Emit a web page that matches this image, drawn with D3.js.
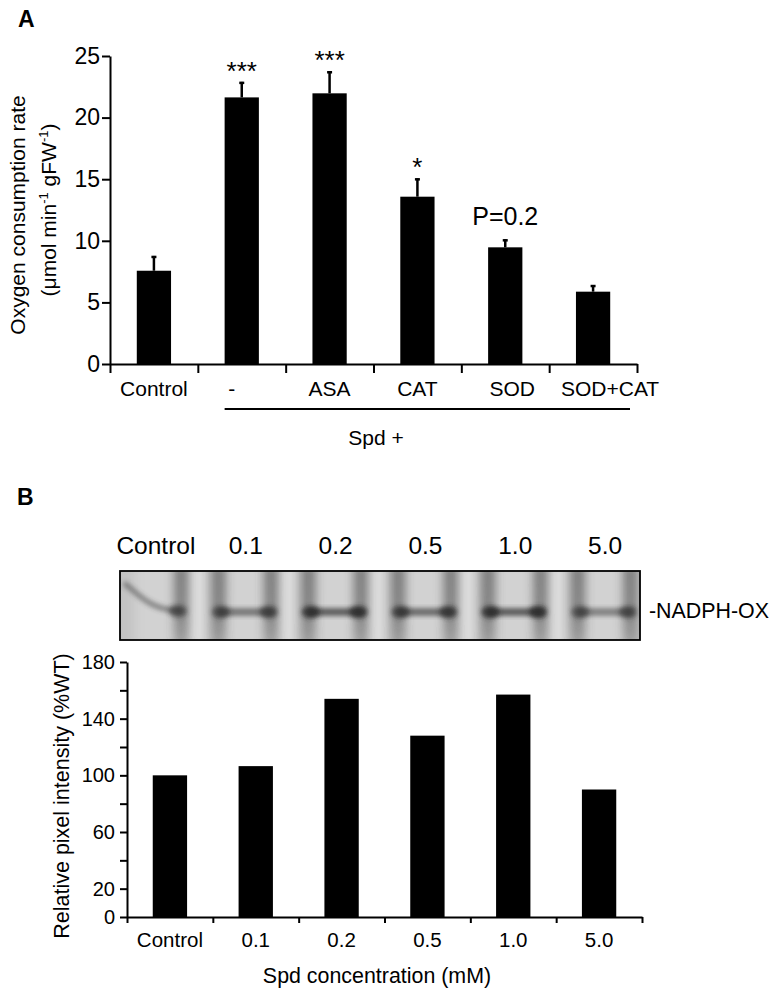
<!DOCTYPE html>
<html>
<head>
<meta charset="utf-8">
<script src="https://cdn.jsdelivr.net/npm/d3@7"></script>
<style>
  body { margin: 0; background: #fff; }
  svg text { font-family: Arial, "Liberation Sans", sans-serif; fill: #000; }
</style>
</head>
<body>
<svg id="fig" width="778" height="996"></svg>
<script>
// ---- panel A data ----
const treatments = ["Control", "-", "ASA", "CAT", "SOD", "SOD+CAT"];
const o2Rate = [7.57, 21.64, 21.97, 13.58, 9.47, 5.87];
const o2Sem = [1.2, 1.26, 1.79, 1.49, 0.65, 0.54];
const o2Sig = ["", "***", "***", "*", "P=0.2", ""];
const o2Ticks = [0, 5, 10, 15, 20, 25];

// ---- panel B data ----
const spdLevels = ["Control", "0.1", "0.2", "0.5", "1.0", "5.0"];
const pixelIntensity = [100, 106.5, 154, 128, 157, 90];
const pixelTicks = [0, 20, 40, 60, 80, 100, 120, 140, 160, 180];
const pixelTickLabels = [0, 20, 60, 100, 140, 180];

const svg = d3.select("#fig");

function styleAxis(g, fontSize) {
  g.attr("font-size", fontSize);
  g.select(".domain").attr("stroke", "#000").attr("stroke-width", 2);
  g.selectAll(".tick line").attr("stroke", "#000").attr("stroke-width", 2);
  g.selectAll(".tick text").attr("font-size", fontSize).attr("fill", "#000")
    .attr("font-family", "Arial, 'Liberation Sans', sans-serif");
}

// ================= Panel A =================
svg.append("text").attr("x", 18).attr("y", 27)
  .attr("font-size", 23).attr("font-weight", "bold").text("A");

const yA = d3.scaleLinear().domain([0, 25]).range([364, 56]);
const xA = d3.scaleBand().domain(treatments).range([110, 637])
  .paddingInner(0.61).paddingOuter(0.305);
const edgeA = d3.scaleLinear().domain([0, treatments.length]).range([110, 637]);

// small label nudges seen in the original layout
const labelNudgeA = { "-": -10, "SOD": 7, "SOD+CAT": 17 };

const gA = svg.append("g");

gA.selectAll("rect.bar").data(treatments).enter().append("rect")
  .attr("class", "bar")
  .attr("x", d => xA(d))
  .attr("width", xA.bandwidth())
  .attr("y", (d, i) => yA(o2Rate[i]))
  .attr("height", (d, i) => yA(0) - yA(o2Rate[i]))
  .attr("fill", "#000");

// error bars (upper only)
const cx = d => xA(d) + xA.bandwidth() / 2;
gA.selectAll("line.err").data(treatments).enter().append("line")
  .attr("x1", cx).attr("x2", cx)
  .attr("y1", (d, i) => yA(o2Rate[i]))
  .attr("y2", (d, i) => yA(o2Rate[i] + o2Sem[i]))
  .attr("stroke", "#000").attr("stroke-width", 2.5);
gA.selectAll("line.cap").data(treatments).enter().append("line")
  .attr("x1", d => cx(d) - 2.5).attr("x2", d => cx(d) + 2.5)
  .attr("y1", (d, i) => yA(o2Rate[i] + o2Sem[i]) + 1)
  .attr("y2", (d, i) => yA(o2Rate[i] + o2Sem[i]) + 1)
  .attr("stroke", "#000").attr("stroke-width", 2.5);

// significance marks
gA.selectAll("text.sig").data(treatments).enter().append("text")
  .attr("x", cx)
  .attr("y", (d, i) => yA(o2Rate[i] + o2Sem[i]) - (o2Sig[i].startsWith("P") ? 14 : 2))
  .attr("text-anchor", "middle")
  .attr("font-size", (d, i) => o2Sig[i].startsWith("P") ? 25 : 26)
  .text((d, i) => o2Sig[i]);

// axes
gA.append("g").attr("transform", "translate(110,0)")
  .call(d3.axisLeft(yA).tickValues(o2Ticks).tickSize(8).tickSizeOuter(0).tickPadding(2))
  .call(g => styleAxis(g, 23));
gA.append("g").attr("transform", "translate(0,364)")
  .call(d3.axisBottom(edgeA).tickValues(d3.range(treatments.length + 1))
    .tickFormat("").tickSize(9).tickSizeOuter(0))
  .call(g => styleAxis(g, 21));

gA.selectAll("text.cat").data(treatments).enter().append("text")
  .attr("x", d => cx(d) + (labelNudgeA[d] || 0))
  .attr("y", 396)
  .attr("text-anchor", "middle").attr("font-size", 21)
  .text(d => d);

// Spd + bracket
gA.append("line")
  .attr("x1", xA("-")).attr("x2", edgeA(treatments.length) - 7)
  .attr("y1", 409).attr("y2", 409)
  .attr("stroke", "#000").attr("stroke-width", 2);
gA.append("text").attr("x", 376).attr("y", 445)
  .attr("text-anchor", "middle").attr("font-size", 21).text("Spd +");

// y label
const yLabA = gA.append("g");
yLabA.append("text")
  .attr("transform", "translate(25,215) rotate(-90)")
  .attr("text-anchor", "middle").attr("font-size", 21)
  .text("Oxygen consumption rate");
const l2 = yLabA.append("text")
  .attr("transform", "translate(56,210) rotate(-90)")
  .attr("text-anchor", "middle").attr("font-size", 21);
l2.append("tspan").text("(μmol min");
l2.append("tspan").attr("font-size", 13).attr("dy", -8).text("-1");
l2.append("tspan").attr("dy", 8).text(" gFW");
l2.append("tspan").attr("font-size", 13).attr("dy", -8).text("-1");
l2.append("tspan").attr("dy", 8).text(")");

// ================= Panel B =================
svg.append("text").attr("x", 17).attr("y", 505)
  .attr("font-size", 23).attr("font-weight", "bold").text("B");

// ---- blot ----
const lane = d3.scaleBand().domain(spdLevels).range([111, 650]);
const laneC = d => lane(d) + lane.bandwidth() / 2;
const bandY = 612;
const blot = { x: 120, y: 571, w: 520, h: 69 };
const bandAlpha = d3.scaleLinear().domain([80, 160]).range([0.5, 0.8]);

const defs = svg.append("defs");
defs.append("clipPath").attr("id", "blotClip").append("rect")
  .attr("x", blot.x).attr("y", blot.y).attr("width", blot.w).attr("height", blot.h);
function blurFilter(id, sd) {
  defs.append("filter").attr("id", id).attr("x", "-80%").attr("y", "-60%")
    .attr("width", "260%").attr("height", "220%")
    .append("feGaussianBlur").attr("stdDeviation", sd);
}
blurFilter("blurWide", 6);
blurFilter("blurEdge", 5);
blurFilter("blurMid", 2.6);
const vGrad = defs.append("linearGradient").attr("id", "edgeGrad")
  .attr("x1", 0).attr("x2", 0).attr("y1", 0).attr("y2", 1);
vGrad.append("stop").attr("offset", "0%").attr("stop-color", "#4a4a4a").attr("stop-opacity", 0.6);
vGrad.append("stop").attr("offset", "60%").attr("stop-color", "#4a4a4a").attr("stop-opacity", 0.55);
vGrad.append("stop").attr("offset", "100%").attr("stop-color", "#4a4a4a").attr("stop-opacity", 0.3);

const gBlot = svg.append("g").attr("clip-path", "url(#blotClip)");
gBlot.append("rect").attr("x", blot.x).attr("y", blot.y)
  .attr("width", blot.w).attr("height", blot.h).attr("fill", "#c2c2c2");
// lane interiors a bit lighter
gBlot.selectAll("rect.inner").data(spdLevels).enter().append("rect")
  .attr("x", d => laneC(d) - 22).attr("width", 44)
  .attr("y", blot.y - 8).attr("height", blot.h + 16)
  .attr("fill", "#d2d2d2").attr("filter", "url(#blurWide)");
// light gaps between lanes
gBlot.selectAll("rect.gap").data(spdLevels.slice(1)).enter().append("rect")
  .attr("x", d => lane(d) - 10).attr("width", 14)
  .attr("y", blot.y - 8).attr("height", blot.h + 16)
  .attr("fill", "#e2e2e2").attr("filter", "url(#blurWide)");
// dark lane edges
const edges = [];
spdLevels.forEach((d, i) => {
  if (i > 0) edges.push({ x: laneC(d) - 27, lvl: d });
  edges.push({ x: laneC(d) + 25, lvl: d });
});
gBlot.selectAll("rect.edge").data(edges).enter().append("rect")
  .attr("x", e => e.x - 7).attr("width", 14)
  .attr("y", blot.y - 6).attr("height", blot.h + 12)
  .attr("fill", "url(#edgeGrad)").attr("filter", "url(#blurEdge)");
// bands
gBlot.selectAll("rect.band").data(spdLevels.slice(1)).enter().append("rect")
  .attr("x", d => laneC(d) - 28).attr("width", 56)
  .attr("y", bandY - 3.5).attr("height", 7)
  .attr("fill", "#2e2e2e")
  .attr("opacity", d => bandAlpha(pixelIntensity[spdLevels.indexOf(d)]))
  .attr("filter", "url(#blurMid)");
gBlot.selectAll("ellipse.bandEnd").data(spdLevels.slice(1).flatMap(d => [
  { x: laneC(d) - 25, d }, { x: laneC(d) + 23, d }])).enter().append("ellipse")
  .attr("cx", e => e.x).attr("cy", bandY).attr("rx", 9).attr("ry", 6)
  .attr("fill", "#262626")
  .attr("opacity", e => bandAlpha(pixelIntensity[spdLevels.indexOf(e.d)]))
  .attr("filter", "url(#blurMid)");
// control lane: curved smear ending in a dark spot
const c0 = laneC(spdLevels[0]);
gBlot.append("path")
  .attr("d", `M${c0 - 32},${blot.y + 12} C${c0 - 18},${blot.y + 22} ${c0 - 8},${bandY - 2} ${c0 + 26},${bandY - 1}`)
  .attr("fill", "none").attr("stroke", "#303030").attr("stroke-width", 4.5)
  .attr("opacity", bandAlpha(pixelIntensity[0]))
  .attr("filter", "url(#blurMid)");
gBlot.append("ellipse").attr("cx", c0 + 22).attr("cy", bandY - 1)
  .attr("rx", 9).attr("ry", 6).attr("fill", "#262626")
  .attr("opacity", bandAlpha(pixelIntensity[0])).attr("filter", "url(#blurMid)");

svg.append("rect").attr("x", blot.x).attr("y", blot.y)
  .attr("width", blot.w).attr("height", blot.h)
  .attr("fill", "none").attr("stroke", "#000").attr("stroke-width", 1.8);

svg.selectAll("text.lane").data(spdLevels).enter().append("text")
  .attr("x", laneC).attr("y", 554)
  .attr("text-anchor", "middle").attr("font-size", 24.5)
  .text(d => d);
svg.append("text").attr("x", 649).attr("y", 618)
  .attr("font-size", 21.4).text("-NADPH-OX");

// ---- bar chart ----
const yB = d3.scaleLinear().domain([0, 180]).range([917, 662]);
const xB = d3.scaleBand().domain(spdLevels).range([127, 642])
  .paddingInner(0.6).paddingOuter(0.3);
const edgeB = d3.scaleLinear().domain([0, spdLevels.length]).range([127, 642]);
const gB = svg.append("g");

gB.selectAll("rect.bar").data(spdLevels).enter().append("rect")
  .attr("x", d => xB(d))
  .attr("width", xB.bandwidth())
  .attr("y", (d, i) => yB(pixelIntensity[i]))
  .attr("height", (d, i) => yB(0) - yB(pixelIntensity[i]))
  .attr("fill", "#000");

gB.append("g").attr("transform", "translate(127,0)")
  .call(d3.axisLeft(yB).tickValues(pixelTicks)
    .tickFormat(d => pixelTickLabels.includes(d) ? d : "")
    .tickSize(7).tickSizeOuter(0).tickPadding(5))
  .call(g => styleAxis(g, 20));
gB.append("g").attr("transform", "translate(0,917)")
  .call(d3.axisBottom(edgeB).tickValues(d3.range(spdLevels.length + 1))
    .tickFormat("").tickSize(6).tickSizeOuter(0))
  .call(g => styleAxis(g, 20));

gB.selectAll("text.cat").data(spdLevels).enter().append("text")
  .attr("x", d => xB(d) + xB.bandwidth() / 2)
  .attr("y", 947)
  .attr("text-anchor", "middle").attr("font-size", 20.5)
  .text(d => d);

gB.append("text").attr("x", 377).attr("y", 983)
  .attr("text-anchor", "middle").attr("font-size", 21.4)
  .text("Spd concentration (mM)");
gB.append("text")
  .attr("transform", "translate(69,796) rotate(-90)")
  .attr("text-anchor", "middle").attr("font-size", 21.5)
  .text("Relative pixel intensity (%WT)");
</script>
</body>
</html>
